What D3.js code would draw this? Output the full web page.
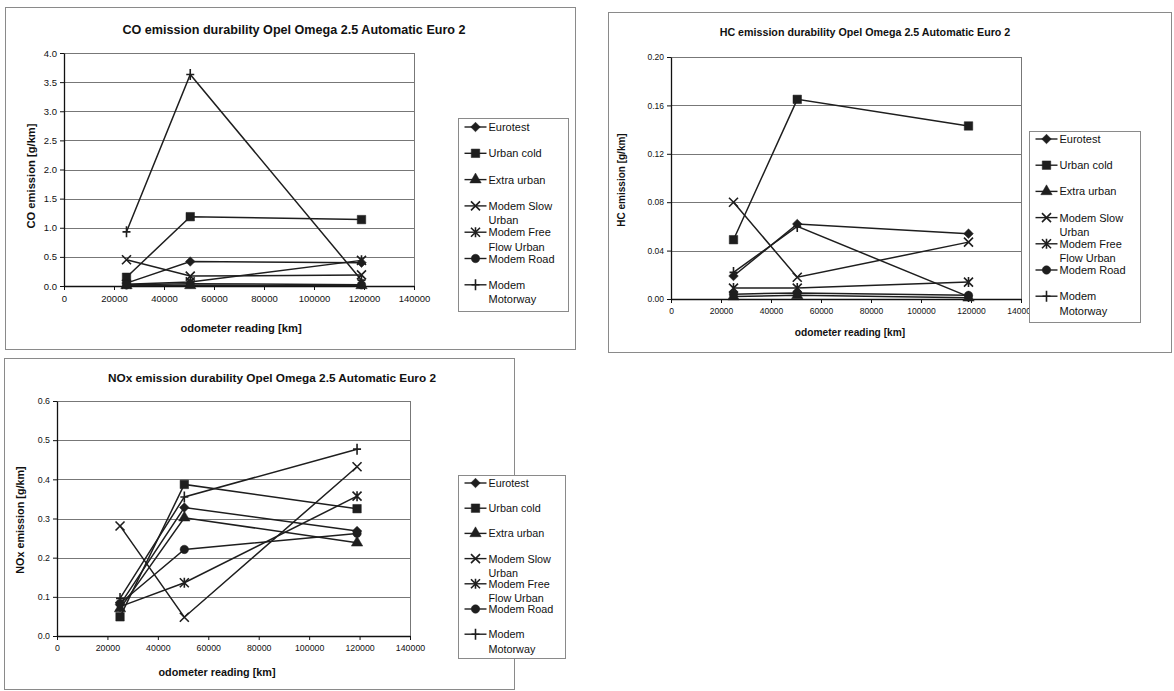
<!DOCTYPE html>
<html>
<head>
<meta charset="utf-8">
<script src="https://cdn.jsdelivr.net/npm/d3@7"></script>
<style>
  html, body { margin: 0; padding: 0; background: #fff; }
  svg { display: block; font-family: "Liberation Sans", Arial, sans-serif; }
</style>
</head>
<body>
<svg id="chart" width="1174" height="691"></svg>
<script>
// ---------------- DATA ----------------
const odometerKm = [25000, 50500, 119000];
const seriesNames = ["Eurotest", "Urban cold", "Extra urban", "Modem Slow Urban",
                     "Modem Free Flow Urban", "Modem Road", "Modem Motorway"];
const legendLines = [["Eurotest"], ["Urban cold"], ["Extra urban"], ["Modem Slow", "Urban"],
                     ["Modem Free", "Flow Urban"], ["Modem Road"], ["Modem", "Motorway"]];
const seriesSymbols = ["diamond", "square", "triangle", "x", "asterisk", "circle", "plus"];

// CO emission [g/km], one row per series, one value per odometer reading
const coValues = [
  [0.05, 0.42, 0.40],
  [0.15, 1.19, 1.14],
  [0.01, 0.01, 0.01],
  [0.45, 0.17, 0.19],
  [0.03, 0.07, 0.44],
  [0.02, 0.04, 0.02],
  [0.93, 3.63, 0.10]
];
// HC emission [g/km]
const hcValues = [
  [0.019, 0.062, 0.054],
  [0.049, 0.165, 0.143],
  [0.002, 0.003, 0.001],
  [0.080, 0.018, 0.047],
  [0.009, 0.009, 0.014],
  [0.004, 0.005, 0.003],
  [0.022, 0.060, 0.002]
];
// NOx emission [g/km]
const noxValues = [
  [0.080, 0.328, 0.268],
  [0.049, 0.387, 0.325],
  [0.070, 0.302, 0.238],
  [0.281, 0.048, 0.432],
  [0.075, 0.136, 0.357],
  [0.083, 0.221, 0.262],
  [0.096, 0.355, 0.477]
];

const xTicks = [0, 20000, 40000, 60000, 80000, 100000, 120000, 140000];
const coTicks = [0, 0.5, 1.0, 1.5, 2.0, 2.5, 3.0, 3.5, 4.0];
const hcTicks = [0, 0.04, 0.08, 0.12, 0.16, 0.20];
const noxTicks = [0, 0.1, 0.2, 0.3, 0.4, 0.5, 0.6];

const coTitle = "CO emission durability Opel Omega 2.5 Automatic Euro 2";
const hcTitle = "HC emission durability Opel Omega 2.5 Automatic Euro 2";
const noxTitle = "NOx emission durability Opel Omega 2.5 Automatic Euro 2";
const xAxisTitle = "odometer reading [km]";

// ---------------- LAYOUT ----------------
const charts = [
  {
    values: coValues, yTicks: coTicks, yFmt: d3.format(".1f"), yMax: 4.0,
    title: coTitle, yTitle: "CO emission [g/km]",
    frame: {x: 5.5, y: 7.5, w: 570, h: 342},
    plot: {l: 64, r: 414, t: 53, b: 286},
    titlePos: {x: 294, y: 34, size: 12.6},
    xTitlePos: {x: 241, y: 332, size: 11.2},
    yTitlePos: {x: 35, y: 176, size: 11.2},
    tickSize: 9.5, legendSize: 11,
    legend: {x: 458.5, y: 118.5, w: 110, h: 193, step: 26.3, first: 8.5}
  },
  {
    values: hcValues, yTicks: hcTicks, yFmt: d3.format(".2f"), yMax: 0.20,
    title: hcTitle, yTitle: "HC emission [g/km]",
    frame: {x: 608.5, y: 12.5, w: 563, h: 340},
    plot: {l: 671, r: 1021, t: 57, b: 299},
    titlePos: {x: 865, y: 36, size: 10.7},
    xTitlePos: {x: 850, y: 336, size: 10.2},
    yTitlePos: {x: 625, y: 180, size: 10},
    tickSize: 8.5, legendSize: 11,
    legend: {x: 1029.5, y: 131.5, w: 111, h: 191, step: 26.2, first: 7.5}
  },
  {
    values: noxValues, yTicks: noxTicks, yFmt: d3.format(".1f"), yMax: 0.6,
    title: noxTitle, yTitle: "NOx emission [g/km]",
    frame: {x: 4.5, y: 358.5, w: 510, h: 331},
    plot: {l: 57, r: 410, t: 401, b: 636},
    titlePos: {x: 272, y: 382, size: 11.8},
    xTitlePos: {x: 217, y: 676, size: 10.8},
    yTitlePos: {x: 24, y: 520, size: 10.8},
    tickSize: 8.8, legendSize: 10.8,
    legend: {x: 458.5, y: 475.5, w: 107, h: 183, step: 25.2, first: 7.5}
  }
];

const svg = d3.select("#chart");
const lineColor = "#1e1e1e";

function markerPath(type) {
  switch (type) {
    case "diamond": return "M0,-4.8L4.8,0L0,4.8L-4.8,0Z";
    case "square": return d3.symbol().type(d3.symbolSquare).size(72)();
    case "triangle": return d3.symbol().type(d3.symbolTriangle).size(56)();
    case "circle": return d3.symbol().type(d3.symbolCircle).size(56)();
    case "x": return "M-4.5,-4.5L4.5,4.5M-4.5,4.5L4.5,-4.5";
    case "asterisk": return "M-4.5,-4.5L4.5,4.5M-4.5,4.5L4.5,-4.5M0,-5L0,5";
    case "plus": return "M0,-5.5L0,5.5M-4,0L4,0";
  }
}
function isFilled(type) {
  return ["diamond", "square", "triangle", "circle"].includes(type);
}

charts.forEach(cfg => {
  const g = svg.append("g");
  // frame
  g.append("rect")
    .attr("x", cfg.frame.x).attr("y", cfg.frame.y)
    .attr("width", cfg.frame.w).attr("height", cfg.frame.h)
    .attr("fill", "none").attr("stroke", "#8a8a8a").attr("stroke-width", 1);

  const x = d3.scaleLinear().domain([0, 140000]).range([cfg.plot.l, cfg.plot.r]);
  const y = d3.scaleLinear().domain([0, cfg.yMax]).range([cfg.plot.b, cfg.plot.t]);

  // gridlines
  g.append("g").selectAll("line").data(cfg.yTicks.slice(1)).join("line")
    .attr("x1", cfg.plot.l).attr("x2", cfg.plot.r)
    .attr("y1", d => Math.round(y(d)) + 0.5).attr("y2", d => Math.round(y(d)) + 0.5)
    .attr("stroke", "#777").attr("stroke-width", 1);
  // plot border (right)
  g.append("line")
    .attr("x1", cfg.plot.r + 0.5).attr("x2", cfg.plot.r + 0.5)
    .attr("y1", cfg.plot.t).attr("y2", cfg.plot.b)
    .attr("stroke", "#777");

  // axes
  const xAxis = d3.axisBottom(x).tickValues(xTicks).tickFormat(d3.format("d"))
    .tickSizeInner(4).tickSizeOuter(0).tickPadding(5);
  const yAxis = d3.axisLeft(y).tickValues(cfg.yTicks).tickFormat(cfg.yFmt)
    .tickSizeInner(4).tickSizeOuter(0).tickPadding(3);

  const gx = g.append("g").attr("transform", `translate(0,${cfg.plot.b})`).call(xAxis);
  const gy = g.append("g").attr("transform", `translate(${cfg.plot.l},0)`).call(yAxis);
  [gx, gy].forEach(ax => {
    ax.select(".domain").attr("stroke", "#111").attr("stroke-width", 1.3);
    ax.selectAll(".tick line").attr("stroke", "#111");
    ax.selectAll("text").attr("font-size", cfg.tickSize).attr("fill", "#111")
      .attr("font-family", "'Liberation Sans', Arial, sans-serif");
  });

  // series lines and markers
  const line = d3.line().x((d, i) => x(odometerKm[i])).y(d => y(d));
  cfg.values.forEach((vals, s) => {
    g.append("path").attr("d", line(vals))
      .attr("fill", "none").attr("stroke", lineColor).attr("stroke-width", 1.5);
  });
  cfg.values.forEach((vals, s) => {
    const type = seriesSymbols[s];
    g.append("g").selectAll("path").data(vals).join("path")
      .attr("transform", (d, i) => `translate(${x(odometerKm[i])},${y(d)})`)
      .attr("d", markerPath(type))
      .attr("fill", isFilled(type) ? lineColor : "none")
      .attr("stroke", lineColor)
      .attr("stroke-width", isFilled(type) ? 0.5 : 1.6);
  });

  // titles
  g.append("text")
    .attr("x", cfg.titlePos.x).attr("y", cfg.titlePos.y)
    .attr("text-anchor", "middle").attr("font-weight", "bold")
    .attr("font-size", cfg.titlePos.size).attr("fill", "#111")
    .text(cfg.title);
  g.append("text")
    .attr("x", cfg.xTitlePos.x).attr("y", cfg.xTitlePos.y)
    .attr("text-anchor", "middle").attr("font-weight", "bold")
    .attr("font-size", cfg.xTitlePos.size).attr("fill", "#111")
    .text(xAxisTitle);
  g.append("text")
    .attr("transform", `translate(${cfg.yTitlePos.x},${cfg.yTitlePos.y}) rotate(-90)`)
    .attr("text-anchor", "middle").attr("font-weight", "bold")
    .attr("font-size", cfg.yTitlePos.size).attr("fill", "#111")
    .text(cfg.yTitle);

  // legend
  const L = cfg.legend;
  const lg = g.append("g");
  lg.append("rect").attr("x", L.x).attr("y", L.y).attr("width", L.w).attr("height", L.h)
    .attr("fill", "#fff").attr("stroke", "#8a8a8a");
  seriesNames.forEach((name, s) => {
    const cy = L.y + L.first + s * L.step;
    const sx = L.x + 6;
    lg.append("line").attr("x1", sx).attr("x2", sx + 22).attr("y1", cy).attr("y2", cy)
      .attr("stroke", lineColor).attr("stroke-width", 1.4);
    const type = seriesSymbols[s];
    lg.append("path").attr("transform", `translate(${sx + 11},${cy})`)
      .attr("d", markerPath(type))
      .attr("fill", isFilled(type) ? lineColor : "none")
      .attr("stroke", lineColor)
      .attr("stroke-width", isFilled(type) ? 0.5 : 1.6);
    const t = lg.append("text").attr("x", sx + 24).attr("y", cy + 4)
      .attr("font-size", cfg.legendSize).attr("fill", "#111");
    legendLines[s].forEach((ln, k) => {
      t.append("tspan").attr("x", sx + 24).attr("dy", k === 0 ? 0 : 14.5).text(ln);
    });
  });
});
</script>
</body>
</html>
